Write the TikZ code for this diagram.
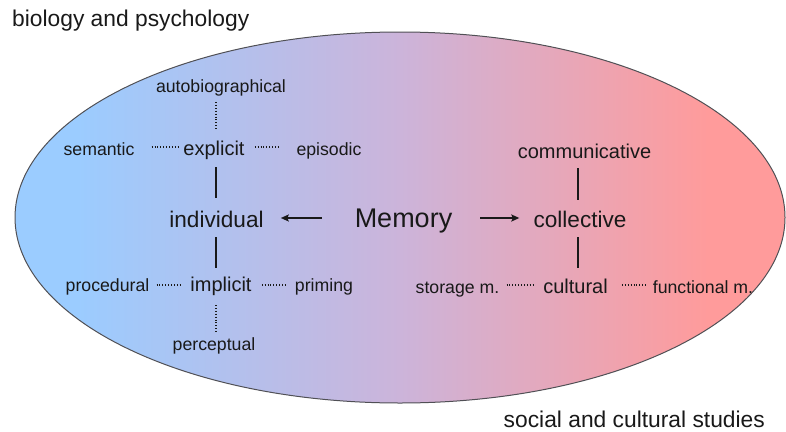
\documentclass[tikz,border=0pt]{standalone}
\usepackage{fontspec}
\setmainfont{Liberation Sans}
\usetikzlibrary{arrows.meta}
\definecolor{cblue}{RGB}{155,204,255}
\definecolor{cmid}{RGB}{204,180,218}
\definecolor{cpink}{RGB}{255,155,155}
\definecolor{txt}{RGB}{25,25,25}
\definecolor{rim}{RGB}{80,80,85}
\pgfdeclarehorizontalshading{memgrad}{100bp}{color(0bp)=(cblue); color(29bp)=(cblue); color(50bp)=(cmid); color(70bp)=(cpink); color(100bp)=(cpink)}
\begin{document}
\begin{tikzpicture}[x=1pt,y=-1pt,
  leaf/.style={font=\fontsize{17.7}{20}\selectfont, text=txt, inner sep=0pt, anchor=base},
  branch/.style={leaf, font=\fontsize{20}{24}\selectfont},
  kind/.style={leaf, font=\fontsize{22.6}{26}\selectfont},
  title/.style={leaf, font=\fontsize{27}{30}\selectfont},
  corner/.style={leaf, font=\fontsize{22.8}{26}\selectfont},
  solidline/.style={draw=txt, line width=1.7pt},
  dotline/.style={draw=txt, line width=1.3pt, dash pattern=on 1pt off 1.9pt},
  arr/.style={draw=txt, line width=1.7pt, -{Stealth[length=8pt,width=7pt,inset=1.5pt]}}]
\useasboundingbox (0,0) rectangle (786,431);
\shade[shading=memgrad, draw=rim, line width=1pt] (400,217.5) ellipse [x radius=385, y radius=185.5];
\coordinate (lax) at (216,0);
\coordinate (rax) at (578,0);
% corner texts
\node[corner, anchor=base west] (bio) at (12,27) {biology and psychology};
\node[corner, anchor=base east] (soc) at (765,427) {social and cultural studies};
% left tree
\node[leaf] (auto) at (221,92) {autobiographical};
\node[leaf] (sem) at (99,155) {semantic};
\node[branch] (expl) at (214,155) {explicit};
\node[leaf] (epi) at (329,155) {episodic};
\node[kind] (indiv) at (216.5,227) {individual};
\node[leaf] (proc) at (107.5,291) {procedural};
\node[branch] (impl) at (221,291) {implicit};
\node[leaf] (prim) at (324,291) {priming};
\node[leaf] (perc) at (214,350) {perceptual};
% centre
\node[title] (mem) at (403.5,227) {Memory};
% right tree
\node[kind] (coll) at (580,227) {collective};
\node[branch] (comm) at (584.5,158) {communicative};
\node[leaf] (stor) at (457.5,293) {storage m.};
\node[branch] (cult) at (575.5,293) {cultural};
\node[leaf] (func) at (703,293) {functional m.};
% arrows
\draw[arr] ([xshift=-33pt,yshift=9pt]mem.base west) -- ([xshift=17pt,yshift=9pt]indiv.base east);
\draw[arr] ([xshift=28pt,yshift=9pt]mem.base east) -- ([xshift=-14pt,yshift=9pt]coll.base west);
% left verticals
\draw[dotline] ([yshift=-10pt]auto.base -| lax) -- ([yshift=26pt]expl.base -| lax);
\draw[solidline] ([yshift=-12pt]expl.base -| lax) -- ([yshift=29pt]indiv.base -| lax);
\draw[solidline] ([yshift=-10pt]indiv.base -| lax) -- ([yshift=23pt]impl.base -| lax);
\draw[dotline] ([yshift=-14pt]impl.base -| lax) -- ([yshift=18pt]perc.base -| lax);
% left horizontals
\draw[dotline] ([xshift=17pt,yshift=8pt]sem.base east) -- ([xshift=-5pt,yshift=8pt]expl.base west);
\draw[dotline] ([xshift=10pt,yshift=8pt]expl.base east) -- ([xshift=-17pt,yshift=8pt]epi.base west);
\draw[dotline] ([xshift=7pt,yshift=6pt]proc.base east) -- ([xshift=-8pt,yshift=6pt]impl.base west);
\draw[dotline] ([xshift=10pt,yshift=6pt]impl.base east) -- ([xshift=-8pt,yshift=6pt]prim.base west);
% right verticals
\draw[solidline] ([yshift=-10pt]comm.base -| rax) -- ([yshift=27pt]coll.base -| rax);
\draw[solidline] ([yshift=-10pt]coll.base -| rax) -- ([yshift=25pt]cult.base -| rax);
% right horizontals
\draw[dotline] ([xshift=7pt,yshift=8pt]stor.base east) -- ([xshift=-10pt,yshift=8pt]cult.base west);
\draw[dotline] ([xshift=14pt,yshift=8pt]cult.base east) -- ([xshift=-6pt,yshift=8pt]func.base west);
\end{tikzpicture}
\end{document}
